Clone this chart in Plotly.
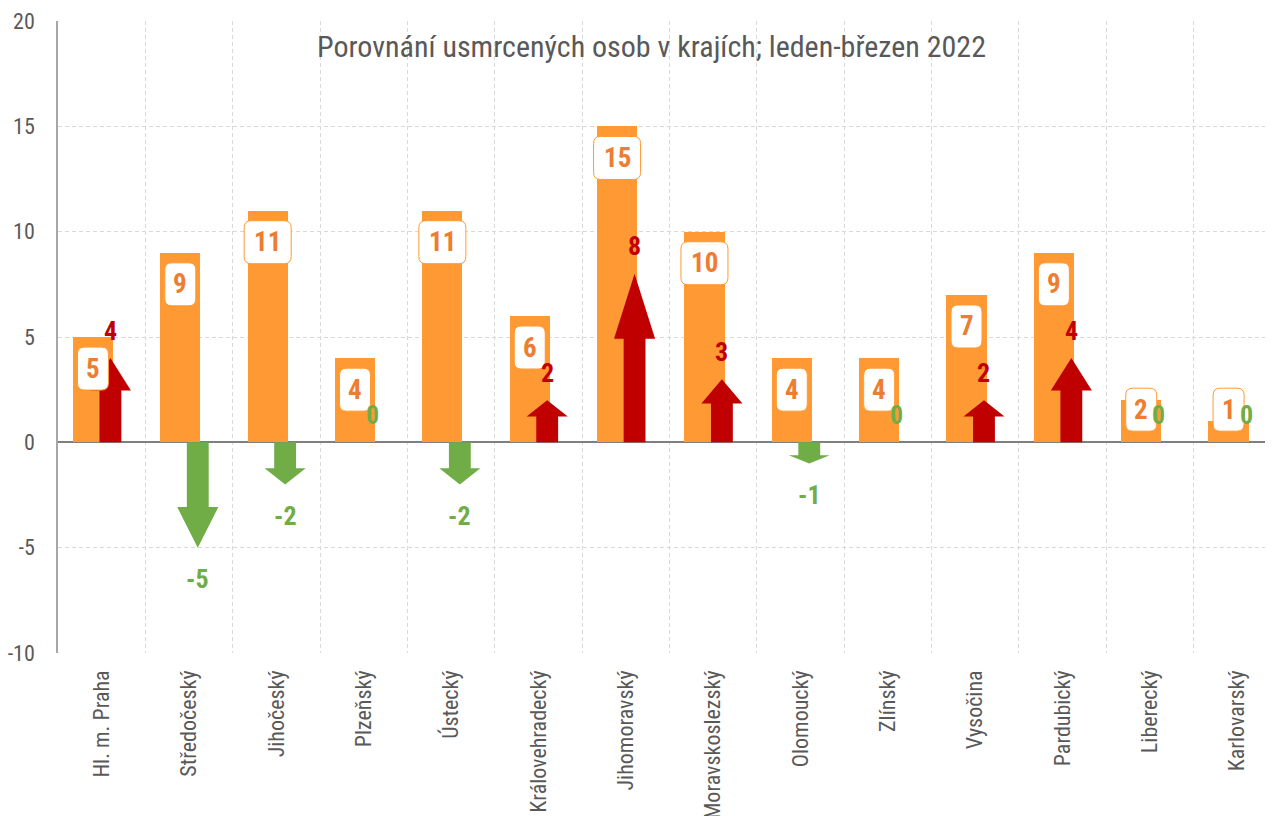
import plotly.graph_objects as go

regions = ["Hl. m. Praha", "Středočeský", "Jihočeský", "Plzeňský", "Ústecký",
           "Královehradecký", "Jihomoravský", "Moravskoslezský", "Olomoucký",
           "Zlínský", "Vysočina", "Pardubický", "Liberecký", "Karlovarský"]
killed_2022 = [5, 9, 11, 4, 11, 6, 15, 10, 4, 4, 7, 9, 2, 1]
change_vs_2021 = [4, -5, -2, 0, -2, 2, 8, 3, -1, 0, 2, 4, 0, 0]
y_ticks = [-10, -5, 0, 5, 10, 15, 20]
y_tick_labels = ["-10", "-5", "0", "5", "10", "15", "20"]
title_text = "Porovnání usmrcených osob v krajích; leden-březen 2022"

NARROW = "Liberation Sans Narrow, Arial Narrow, Roboto Condensed, Liberation Sans, Arial, sans-serif"
ORANGE = "#FF9933"
LABEL_ORANGE = "#ED7D31"
RED = "#C00000"
GREEN = "#70AD47"
TEXT_GRAY = "#595959"

n = len(regions)
idx = list(range(n))
bar_off = -0.1
arr_off = 0.1

fig = go.Figure()

fig.add_trace(go.Bar(
    x=[i + bar_off for i in idx], y=killed_2022, width=0.46,
    marker=dict(color=ORANGE, line=dict(width=0)),
    hoverinfo="skip", showlegend=False))

# arrows as filled polygons in data coordinates
shaft_half = 0.125
head_half = 0.235
for i, d in zip(idx, change_vs_2021):
    if d == 0:
        continue
    cx = i + arr_off
    head_len = 0.385 * abs(d)
    base = d - head_len if d > 0 else d + head_len
    xs = [cx - shaft_half, cx - shaft_half, cx - head_half, cx, cx + head_half,
          cx + shaft_half, cx + shaft_half, cx - shaft_half]
    ys = [0, base, base, d, base, base, 0, 0]
    fig.add_trace(go.Scatter(
        x=xs, y=ys, mode="lines", fill="toself",
        fillcolor=RED if d > 0 else GREEN, line=dict(width=0),
        hoverinfo="skip", showlegend=False))


def rounded_rect(w, h, r):
    x0, x1, y0, y1 = -w / 2, w / 2, -h / 2, h / 2
    return (f"M {x0 + r},{y0} L {x1 - r},{y0} Q {x1},{y0} {x1},{y0 + r} "
            f"L {x1},{y1 - r} Q {x1},{y1} {x1 - r},{y1} L {x0 + r},{y1} "
            f"Q {x0},{y1} {x0},{y1 - r} L {x0},{y0 + r} Q {x0},{y0} {x0 + r},{y0} Z")


shapes = []
annotations = []
for i, v in zip(idx, killed_2022):
    ly = max(v - 1.5, 1.55)
    w = 31 if v < 10 else 47
    shapes.append(dict(type="path", xref="x", yref="y", xsizemode="pixel", ysizemode="pixel",
                       xanchor=i + bar_off, yanchor=ly, path=rounded_rect(w, 43, 7),
                       fillcolor="white", line=dict(color=ORANGE, width=1), layer="above"))
    annotations.append(dict(x=i + bar_off, y=ly, xref="x", yref="y", text=f"<b>{v}</b>",
                            showarrow=False, font=dict(family=NARROW, size=27, color=LABEL_ORANGE)))

for i, d in zip(idx, change_vs_2021):
    if d >= 0:
        ly = d + 1.3
        col = RED if d > 0 else GREEN
    else:
        ly = d - 1.5
        col = GREEN
    annotations.append(dict(x=i + arr_off, y=ly, xref="x", yref="y", text=f"<b>{d}</b>",
                            showarrow=False, font=dict(family=NARROW, size=26, color=col)))

annotations.append(dict(x=0.485, y=0.960, xref="paper", yref="paper",
                        text=title_text, showarrow=False, yanchor="middle", xanchor="center",
                        font=dict(family=NARROW, size=30, color=TEXT_GRAY)))

fig.update_layout(
    width=1273, height=816,
    margin=dict(l=50, r=0, t=13, b=171, autoexpand=False),
    plot_bgcolor="white", paper_bgcolor="white",
    shapes=shapes, annotations=annotations,
    bargap=0,
)

fig.update_xaxes(
    automargin=False,
    range=[-0.5, n - 0.5],
    tickmode="array", tickvals=idx, ticktext=regions, tickangle=-90,
    tickfont=dict(family=NARROW, size=22, color=TEXT_GRAY),
    showgrid=False, ticks="", ticklabelstandoff=12,
    showline=False, zeroline=False,
    minor=dict(tickmode="array", tickvals=[i + 0.5 for i in idx], showgrid=True,
               gridcolor="#D9D9D9", griddash="4px,3px", gridwidth=1, ticks=""),
)
fig.update_yaxes(
    automargin=False,
    range=[-10, 20], tickmode="array", tickvals=y_ticks, ticktext=y_tick_labels,
    tickfont=dict(family=NARROW, size=22, color=TEXT_GRAY),
    showgrid=True, gridcolor="#D9D9D9", griddash="4px,3px", gridwidth=1,
    zeroline=True, zerolinecolor="#7F7F7F", zerolinewidth=1.5,
    showline=True, linecolor="#A6A6A6", linewidth=1.5,
    ticks="", ticklabelstandoff=17,
)

fig.write_html("out.html")
